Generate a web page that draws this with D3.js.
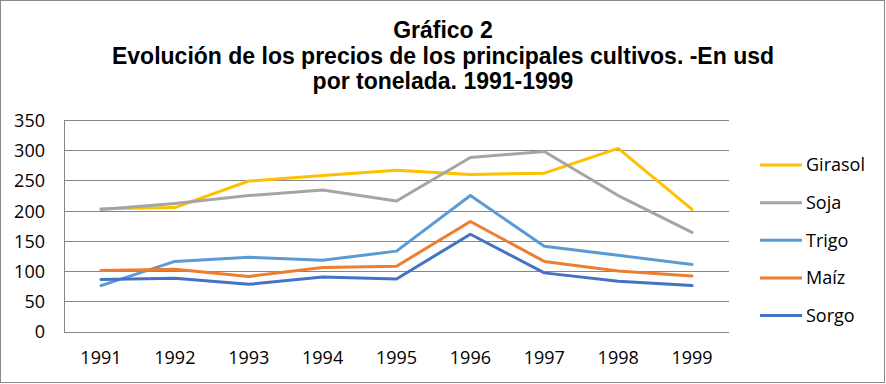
<!DOCTYPE html>
<html>
<head>
<meta charset="utf-8">
<script src="https://cdn.jsdelivr.net/npm/d3@7"></script>
<style>
  body { margin: 0; background: #fff; }
  svg { display: block; }
</style>
</head>
<body>
<svg id="chart" width="886" height="384"></svg>
<script>
const years = ["1991","1992","1993","1994","1995","1996","1997","1998","1999"];
const seriesNames = ["Girasol","Soja","Trigo","Maíz","Sorgo"];
const girasol = [203, 205, 249, 258, 267, 260, 262, 303, 202];
const soja    = [202, 212, 225, 234, 216, 288, 298, 225, 164];
const trigo   = [76, 116, 123, 118, 133, 225, 141, 126, 111];
const maiz    = [101, 103, 91, 106, 108, 182, 116, 100, 92];
const sorgo   = [86, 88, 78, 90, 87, 161, 97, 83, 76];
const yTicks  = [0, 50, 100, 150, 200, 250, 300, 350];
const titleLines = ["Gráfico 2", "Evolución de los precios de los principales cultivos. -En usd", "por tonelada. 1991-1999"];

const values = [girasol, soja, trigo, maiz, sorgo];
const colors = ["#FFC000", "#A5A5A5", "#5B9BD5", "#ED7D31", "#4472C4"];

const svg = d3.select("#chart");
const W = 886, H = 384;
const plot = { left: 64, right: 729, top: 120, bottom: 331.5 };

svg.append("rect").attr("x", 0.5).attr("y", 0.5).attr("width", W - 2).attr("height", H - 2)
  .attr("fill", "#fff").attr("stroke", "#888").attr("stroke-width", 1);

const x = d3.scaleBand().domain(years).range([plot.left, plot.right]).paddingInner(0).paddingOuter(0);
const y = d3.scaleLinear().domain([0, 350]).range([plot.bottom, plot.top]);

// gridlines
const grid = svg.append("g");
grid.selectAll("line").data(yTicks).join("line")
  .attr("x1", plot.left).attr("x2", plot.right)
  .attr("y1", d => Math.round(y(d)) + 0.5).attr("y2", d => Math.round(y(d)) + 0.5)
  .attr("stroke", "#868686").attr("stroke-width", 1);
svg.append("line").attr("x1", plot.left + 0.5).attr("x2", plot.left + 0.5)
  .attr("y1", Math.round(y(350)) + 0.5).attr("y2", Math.round(y(0)) + 0.5)
  .attr("stroke", "#868686");

// y axis labels
const yAxis = d3.axisLeft(y).tickValues(yTicks).tickSize(0).tickPadding(19);
const gy = svg.append("g").attr("transform", `translate(${plot.left},0)`).call(yAxis);
gy.select(".domain").remove();
gy.selectAll("text").attr("font-family", "Open Sans").attr("font-size", 18).attr("fill", "#000").attr("dy", "0.36em");

// x axis labels
const xAxis = d3.axisBottom(x).tickSize(0).tickPadding(20);
const gx = svg.append("g").attr("transform", `translate(0,${plot.bottom})`).call(xAxis);
gx.select(".domain").remove();
gx.selectAll("text").attr("font-family", "Open Sans").attr("font-size", 18).attr("fill", "#000");

// lines
const line = d3.line().x((d, i) => x(years[i]) + x.bandwidth() / 2).y(d => y(d));
svg.append("g").selectAll("path").data(values).join("path")
  .attr("d", d => line(d))
  .attr("fill", "none")
  .attr("stroke", (d, i) => colors[i])
  .attr("stroke-width", 3)
  .attr("stroke-linejoin", "round")
  .attr("stroke-linecap", "round");

// legend
const lg = svg.append("g");
const legendY = d3.scalePoint().domain(seriesNames).range([165, 315.5]);
seriesNames.forEach((n, i) => {
  lg.append("line").attr("x1", 760).attr("x2", 802)
    .attr("y1", legendY(n)).attr("y2", legendY(n))
    .attr("stroke", colors[i]).attr("stroke-width", 3);
  lg.append("text").attr("x", 806).attr("y", legendY(n)).attr("dy", "0.36em")
    .attr("font-family", "Open Sans").attr("font-size", 18).attr("fill", "#000").text(n);
});

// title
const tBase = [38, 64, 89];
titleLines.forEach((t, i) => {
  svg.append("text").attr("x", 443).attr("y", tBase[i]).attr("text-anchor", "middle")
    .attr("font-family", "Liberation Sans, Arial, sans-serif").attr("font-weight", "bold")
    .attr("font-size", 23).attr("fill", "#000").text(t);
});
</script>
</body>
</html>
